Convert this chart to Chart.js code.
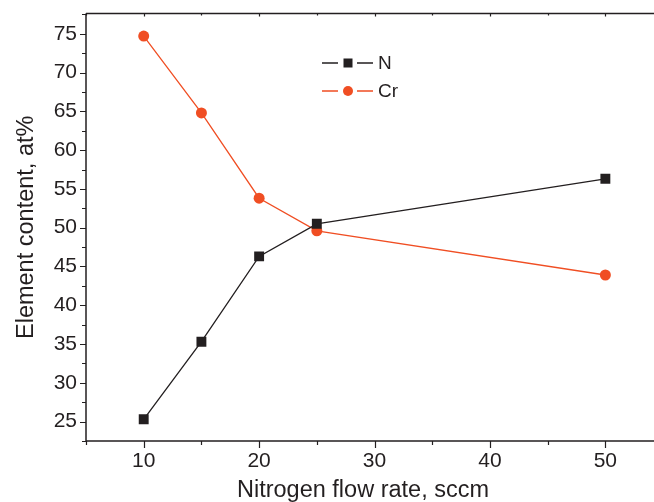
<!DOCTYPE html>
<html>
<head>
<meta charset="utf-8">
<script src="https://cdn.jsdelivr.net/npm/chart.js@4/dist/chart.umd.min.js"></script>
<style>
  html, body { margin:0; padding:0; background:#fff; overflow:hidden; }
  canvas { display:block; }
</style>
</head>
<body>
<canvas id="chart" width="662" height="502"></canvas>
<script>
// data
const flowRates = [10, 15, 20, 25, 50];
const nitrogen = [25.3, 35.3, 46.3, 50.5, 56.3];
const chromium = [74.7, 64.8, 53.8, 49.6, 43.9];
const xTicks = [10, 20, 30, 40, 50];
const yTicks = [25, 30, 35, 40, 45, 50, 55, 60, 65, 70, 75];
const xTitle = "Nitrogen flow rate, sccm";

const BLACK = "#231f20";
const ORANGE = "#f04e23";
const FONT = "'Liberation Sans', Arial, Helvetica, sans-serif";

// frame, ticks (major + minor), x title and the legend
const decor = {
  id: "decor",
  afterDraw(chart){
    const ctx = chart.ctx;
    const a = chart.chartArea;
    const x = chart.scales.x, y = chart.scales.y;
    ctx.save();
    ctx.strokeStyle = BLACK;
    ctx.lineWidth = 1.5;
    ctx.beginPath();
    ctx.moveTo(a.left, a.top); ctx.lineTo(a.right, a.top);
    ctx.moveTo(a.left, a.top); ctx.lineTo(a.left, a.bottom);
    ctx.moveTo(a.left, a.bottom); ctx.lineTo(a.right, a.bottom);
    ctx.stroke();
    ctx.lineWidth = 1.2;
    ctx.beginPath();
    for(let v = 5; v <= x.max; v += 5){
      const px = Math.round(x.getPixelForValue(v)) + 0.5;
      const len = v % 10 === 0 ? 7 : 4;
      ctx.moveTo(px, a.bottom); ctx.lineTo(px, a.bottom + len);
      ctx.moveTo(px, a.top); ctx.lineTo(px, a.top + (v % 10 === 0 ? 3 : 2));
    }
    for(let v = 22.5; v <= 77.5; v += 2.5){
      const py = Math.round(y.getPixelForValue(v)) + 0.5;
      const len = v % 5 === 0 ? 6 : 4;
      ctx.moveTo(a.left - len, py); ctx.lineTo(a.left, py);
    }
    ctx.stroke();

    // x title (sits a bit left of the axis centre in the original)
    ctx.fillStyle = BLACK;
    ctx.font = "23.5px " + FONT;
    ctx.textAlign = "center";
    ctx.textBaseline = "middle";
    ctx.fillText(xTitle, 363, 491);

    // legend
    const items = [
      { label: "N", color: BLACK, style: "rect", y: 63 },
      { label: "Cr", color: ORANGE, style: "circle", y: 91 }
    ];
    ctx.font = "19px " + FONT;
    ctx.textAlign = "left";
    items.forEach(it=>{
      ctx.strokeStyle = it.color;
      ctx.fillStyle = it.color;
      ctx.lineWidth = 1.3;
      ctx.beginPath();
      ctx.moveTo(322, it.y); ctx.lineTo(338, it.y);
      ctx.moveTo(357, it.y); ctx.lineTo(373, it.y);
      ctx.stroke();
      if(it.style === "rect") ctx.fillRect(343.5, it.y - 4.5, 9, 9);
      else { ctx.beginPath(); ctx.arc(348, it.y, 5, 0, Math.PI*2); ctx.fill(); }
      ctx.fillStyle = BLACK;
      ctx.fillText(it.label, 378, it.y + 1);
    });
    ctx.restore();
  }
};

new Chart(document.getElementById("chart"), {
  type: "line",
  data: {
    datasets: [
      { label: "N", data: flowRates.map((f,i)=>({x:f, y:nitrogen[i]})),
        borderColor: BLACK, backgroundColor: BLACK, borderWidth: 1.3,
        pointStyle: "rect", pointRadius: 7, pointBorderWidth: 0, tension: 0 },
      { label: "Cr", data: flowRates.map((f,i)=>({x:f, y:chromium[i]})),
        borderColor: ORANGE, backgroundColor: ORANGE, borderWidth: 1.3,
        pointStyle: "circle", pointRadius: 5.5, pointBorderWidth: 0, tension: 0 }
    ]
  },
  options: {
    responsive: false,
    animation: false,
    layout: { padding: { top: 2, right: 0, left: 0, bottom: 0 } },
    plugins: { legend: { display: false }, tooltip: { enabled: false } },
    scales: {
      x: {
        type: "linear", min: 5, max: 54.3,
        afterBuildTicks: s => { s.ticks = xTicks.map(v=>({value:v})); },
        afterFit: s => { s.height = 61; },
        grid: { display: false },
        border: { display: false },
        ticks: { color: BLACK, font: { family: FONT, size: 21 }, padding: 0 },
        title: { display: false }
      },
      y: {
        type: "linear", min: 22.5, max: 77.6,
        afterBuildTicks: s => { s.ticks = yTicks.map(v=>({value:v})); },
        afterFit: s => { s.width = 86; },
        grid: { display: false },
        border: { display: false },
        ticks: { color: BLACK, font: { family: FONT, size: 21 }, padding: 1 },
        title: { display: true, text: "Element content, at%", color: BLACK,
                 font: { family: FONT, size: 23.5, lineHeight: 1 }, padding: { top: 15, bottom: 0 } }
      }
    }
  },
  plugins: [decor]
});
</script>
</body>
</html>
